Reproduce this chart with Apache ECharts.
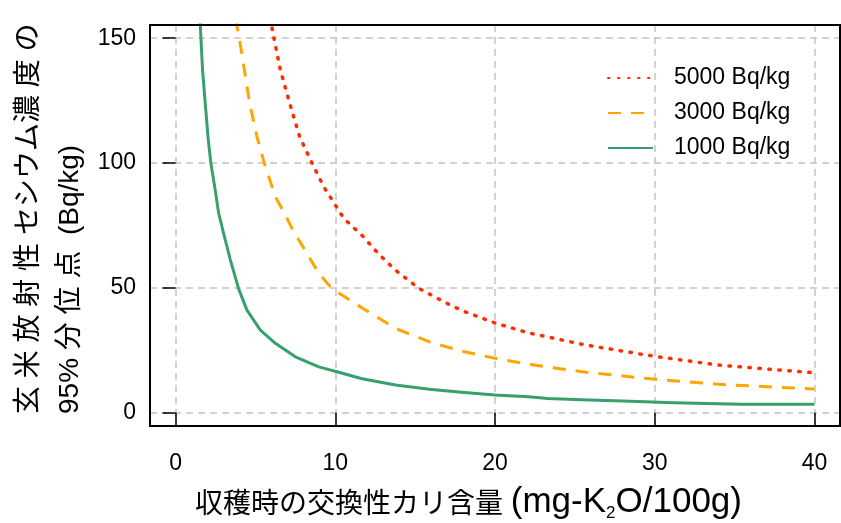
<!DOCTYPE html>
<html><head><meta charset="utf-8">
<script src="https://cdn.jsdelivr.net/npm/echarts@6/dist/echarts.min.js"></script>
<style>html,body{margin:0;padding:0;background:#fff}#c{width:841px;height:523px}</style>
</head><body><div id="c"></div>
<script>
// ---- data ----
const xTicks = [0, 10, 20, 30, 40];
const yTicks = [0, 50, 100, 150];
const seriesNames = ['5000 Bq/kg', '3000 Bq/kg', '1000 Bq/kg'];

const x5000 = [5.93, 6.1, 6.56, 7.15, 7.77, 8.55, 9.28, 10.53, 11.68, 12.73, 13.77, 15.24, 16.9, 17.95, 19.98, 21.5, 22.1, 25.7, 29.9, 34.0, 40.0];
const y5000 = [158, 151.9, 137.3, 123.9, 110.5, 99.9, 90.5, 77.9, 71.0, 63.5, 57.1, 49.8, 44.1, 40.9, 36.0, 33.1, 32.0, 27.1, 22.7, 19.1, 16.0];

const x3000 = [3.82, 3.84, 3.99, 4.31, 4.64, 5.1, 5.56, 6.25, 6.77, 7.34, 8.23, 8.97, 9.8, 11.9, 13.77, 15.9, 17.9, 20.0, 22.1, 25.7, 29.9, 34.0, 40.0];
const y3000 = [158, 155.3, 150, 137.3, 123.9, 110.5, 99.9, 86.5, 80.5, 73.2, 63.8, 55.8, 49.7, 41.1, 33.8, 28.4, 24.7, 21.8, 19.4, 16.2, 13.5, 11.4, 9.5];

const x1000 = [1.53, 1.55, 1.59, 1.69, 1.86, 2.03, 2.21, 2.45, 2.70, 3.01, 3.43, 3.95, 4.47, 5.31, 6.25, 7.5, 8.97, 10.1, 11.68, 13.77, 15.9, 17.9, 20.0, 22.1, 23.3, 25.4, 28.0, 31.2, 35.4, 40.0];
const y1000 = [158, 155.3, 150, 137.3, 123.9, 110.5, 99.9, 90.5, 79.9, 71.8, 61.2, 49.6, 41.1, 33.1, 27.8, 22.4, 18.4, 16.4, 13.6, 11.1, 9.4, 8.2, 7.1, 6.4, 5.75, 5.2, 4.7, 4.0, 3.4, 3.4];

const xTitleCJK = '収穫時の交換性カリ含量';
const yTitle1 = '玄 米 放 射 性 セシウム濃 度 の';
const yTitle2 = '95% 分 位 点  (Bq/kg)';

// ---- chart ----
const pairs = (xs, ys) => xs.map((x, i) => [x, ys[i]]);
const latin = "'Liberation Sans', 'Noto Sans CJK JP', sans-serif";
const cjk = "'Noto Sans CJK JP', 'Liberation Sans', sans-serif";
const gridLine = { show: true, lineStyle: { color: '#c4c4c4', width: 1.5, type: [7, 5] } };

const chart = echarts.init(document.getElementById('c'), null, { renderer: 'canvas' });
chart.setOption({
  animation: false,
  backgroundColor: '#fff',
  grid: { left: 150, right: 1, top: 25, bottom: 97, show: true, borderColor: '#000', borderWidth: 2, backgroundColor: 'transparent', z: 10 },
  xAxis: {
    type: 'value', min: -1.6, max: 41.6,
    axisLine: { show: false },
    axisTick: { show: true, length: 13, inside: false, customValues: xTicks, lineStyle: { color: '#000', width: 1.5 } },
    axisLabel: { customValues: xTicks, margin: 26, color: '#000', fontSize: 23, fontFamily: latin },
    splitLine: gridLine
  },
  yAxis: {
    type: 'value', min: -5.3, max: 155.3,
    axisLine: { show: false },
    axisTick: { show: true, length: 13, inside: false, customValues: yTicks, lineStyle: { color: '#000', width: 1.5 } },
    axisLabel: { customValues: yTicks, margin: 14, color: '#000', fontSize: 23, fontFamily: latin },
    splitLine: gridLine
  },
  legend: {
    orient: 'vertical', left: 602, top: 61,
    itemWidth: 45, itemHeight: 14, itemGap: 11,
    itemStyle: { opacity: 0 },
    textStyle: { fontSize: 23, fontFamily: latin, color: '#000', padding: [0, 0, 0, 16], lineHeight: 24 },
    data: seriesNames
  },
  series: [
    { name: seriesNames[0], type: 'line', symbol: 'none', clip: true, data: pairs(x5000, y5000),
      lineStyle: { color: '#ff2d00', width: 3.5, type: [1.5, 8.5], cap: 'round' }, itemStyle: { color: '#ff2d00' } },
    { name: seriesNames[1], type: 'line', symbol: 'none', clip: true, data: pairs(x3000, y3000),
      lineStyle: { color: '#ffa500', width: 3, type: [13, 10] }, itemStyle: { color: '#ffa500' } },
    { name: seriesNames[2], type: 'line', symbol: 'none', clip: true, data: pairs(x1000, y1000),
      lineStyle: { color: '#38a06c', width: 3, join: 'round' }, itemStyle: { color: '#38a06c' } }
  ],
  graphic: [
    { type: 'text', x: 195, y: 502, style: {
        text: '{c|' + xTitleCJK + '} {l|(mg-K}{s|2}{l|O/100g)}',
        align: 'left', verticalAlign: 'middle', fontSize: 28, fontFamily: latin, fill: '#000',
        rich: {
          c: { fontSize: 28, fontFamily: cjk, lineHeight: 40, verticalAlign: 'middle' },
          l: { fontSize: 35, fontFamily: latin, lineHeight: 40, verticalAlign: 'middle' },
          s: { fontSize: 17, fontFamily: latin, lineHeight: 17, verticalAlign: 'bottom' }
        } } },
    { type: 'text', x: 8.5, y: 414, rotation: Math.PI / 2, style: {
        text: yTitle1 + '\n' + yTitle2,
        align: 'left', verticalAlign: 'top', fontSize: 28, lineHeight: 41, fontFamily: latin, fill: '#000' } }
  ]
});
</script>
</body></html>
